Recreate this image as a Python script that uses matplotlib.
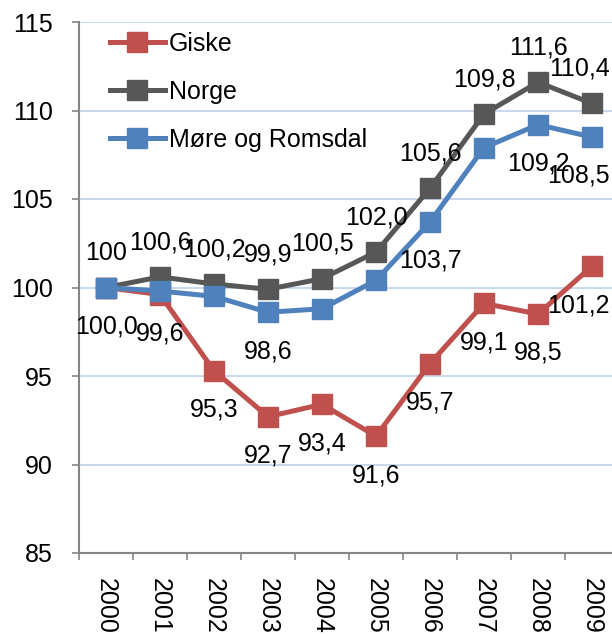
import matplotlib
import matplotlib.pyplot as plt

matplotlib.use('Agg')

# Data (index, 2000 = 100)
years = ['2000', '2001', '2002', '2003', '2004', '2005', '2006', '2007', '2008', '2009']
giske = [100.0, 99.6, 95.3, 92.7, 93.4, 91.6, 95.7, 99.1, 98.5, 101.2]
norge = [100.0, 100.6, 100.2, 99.9, 100.5, 102.0, 105.6, 109.8, 111.6, 110.4]
more = [100.0, 99.8, 99.5, 98.6, 98.8, 100.4, 103.7, 107.9, 109.2, 108.5]

# Text shown in the data labels (None = no label)
giske_labels = ['100,0', '99,6', '95,3', '92,7', '93,4', '91,6', '95,7', '99,1', '98,5', '101,2']
norge_labels = ['100', '100,6', '100,2', '99,9', '100,5', '102,0', '105,6', '109,8', '111,6', '110,4']
more_labels = [None, None, None, '98,6', None, None, '103,7', None, '109,2', '108,5']

plt.rcParams['font.family'] = ['Liberation Sans', 'DejaVu Sans']

fig = plt.figure(figsize=(6.12, 6.36), dpi=100)
ax = fig.add_axes([79 / 612, 1 - 553 / 636, 540 / 612, 531 / 636])

x = list(range(len(years)))
series = [
    ('Giske', giske, giske_labels, '#C0504D', 'below'),
    ('Norge', norge, norge_labels, '#575757', 'above'),
    ('Møre og Romsdal', more, more_labels, '#4F81BD', 'below'),
]

for name, vals, labels, color, pos in series:
    ax.plot(x, vals, color=color, linewidth=3.6, marker='s', markersize=14,
            label=name, clip_on=False)
    for i, (v, lab) in enumerate(zip(vals, labels)):
        if lab is None:
            continue
        dy = 25 if pos == 'above' else -28
        if i == len(vals) - 1:
            # last label is pushed left to stay inside the picture
            ax.annotate(lab, (i, v), xytext=(13, dy), textcoords='offset points',
                        ha='right', va='center', fontsize=18, color='black',
                        annotation_clip=False)
        else:
            ax.annotate(lab, (i, v), xytext=(0, dy), textcoords='offset points',
                        ha='center', va='center', fontsize=18, color='black',
                        annotation_clip=False)

ax.set_xlim(-0.5, len(years) - 0.5)
ax.set_ylim(85, 115)
ax.set_yticks(range(85, 116, 5))
ax.yaxis.grid(True, color='#B9CDE5', linewidth=1.1)
ax.set_axisbelow(True)

ax.set_xticks(x)
ax.set_xticklabels(years, rotation=270, fontsize=18, va='top', ha='center')
ax.set_xticks([i - 0.5 for i in range(len(years) + 1)], minor=True)
ax.tick_params(axis='x', which='major', length=0, pad=18)
ax.tick_params(axis='x', which='minor', length=5, width=1.2, color='#868686')
ax.tick_params(axis='y', labelsize=18, length=5, width=1.2, color='#868686', pad=14)

for side in ['top', 'right']:
    ax.spines[side].set_visible(False)
for side in ['left', 'bottom']:
    ax.spines[side].set_color('#868686')
    ax.spines[side].set_linewidth(1.5)

ax.legend(loc='upper left', bbox_to_anchor=(0.057, 0.982), frameon=False,
          fontsize=18, handlelength=2.2, handletextpad=0.15, labelspacing=0.97,
          borderaxespad=0, borderpad=0)

plt.savefig('out.png', dpi=100)
plt.close()
